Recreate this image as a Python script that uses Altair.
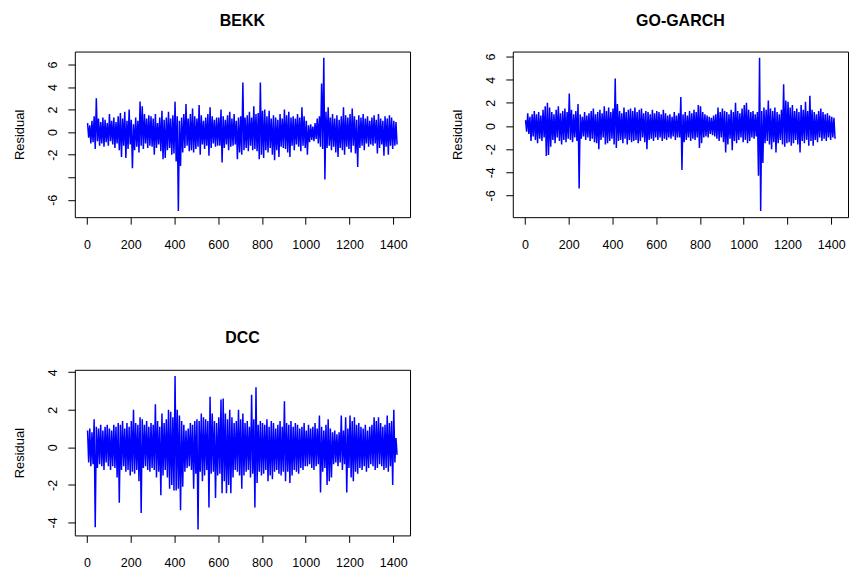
import altair as alt
import pandas as pd

FONT = "Liberation Sans"

# Residual series, read per block of 10 observations: the block's high and low
bekk_hi = [0.8, 0.6, 1.0, 1.4, 3.0, 1.2, 0.9, 1.3, 1.1, 0.8,
           1.6, 1.0, 1.3, 0.9, 1.4, 1.7, 1.2, 1.8, 1.0, 2.0,
           1.1, 0.7, 1.3, 1.0, 2.7, 2.3, 1.6, 1.2, 1.5, 1.4,
           1.2, 1.6, 0.8, 1.3, 1.9, 1.1, 1.3, 1.8, 1.2, 1.5,
           2.7, 1.4, 1.0, 1.3, 1.6, 2.5, 1.2, 1.6, 2.1, 1.4,
           1.2, 2.4, 1.5, 1.0, 1.3, 1.6, 2.2, 1.4, 1.1, 1.3,
           1.3, 2.0, 1.4, 1.1, 1.5, 1.8, 1.2, 1.6, 1.0, 1.3,
           1.4, 4.4, 1.3, 1.5, 1.8, 1.3, 2.3, 1.6, 1.7, 4.4,
           1.9, 2.0, 1.4, 1.9, 1.2, 1.5, 1.3, 1.1, 1.6, 1.2,
           2.0, 1.5, 1.8, 1.3, 1.4, 1.2, 1.6, 1.3, 2.2, 1.4,
           1.0, 0.6, 0.7, 0.5, 0.8, 1.2, 1.4, 4.3, 6.6, 1.8,
           2.2, 1.3, 1.6, 1.2, 1.5, 1.1, 1.4, 2.2, 1.5, 1.3,
           1.6, 2.1, 1.4, 1.1, 1.5, 1.3, 1.6, 1.2, 1.4, 1.0,
           1.3, 1.5, 1.1, 1.6, 1.2, 1.0, 1.4, 1.2, 1.5, 1.3, 1.0, 0.9]
bekk_lo = [-0.5, -1.0, -0.9, -1.5, -0.8, -1.2, -1.0, -1.3, -0.9, -1.2,
           -0.8, -1.1, -1.4, -1.0, -1.6, -2.2, -1.2, -2.3, -1.5, -1.1,
           -3.2, -1.6, -1.3, -1.8, -1.2, -1.5, -1.0, -1.4, -1.2, -1.3,
           -2.0, -1.4, -1.1, -1.7, -2.4, -2.3, -1.6, -1.4, -2.0, -1.9,
           -2.6, -7.0, -3.0, -1.8, -1.4, -1.2, -1.7, -1.6, -1.8, -1.5,
           -1.3, -2.0, -1.1, -1.5, -1.2, -2.1, -1.4, -1.0, -1.3, -1.2,
           -1.2, -2.7, -1.4, -1.1, -1.6, -1.3, -1.2, -1.1, -2.4, -1.8,
           -2.0, -1.6, -1.4, -1.7, -1.2, -1.6, -1.5, -1.7, -2.4, -2.0,
           -2.3, -1.6, -1.8, -1.4, -2.0, -2.5, -1.6, -2.2, -1.3, -1.4,
           -1.5, -1.8, -2.2, -1.2, -1.6, -1.1, -1.3, -1.7, -1.2, -1.4,
           -2.0, -0.9, -0.7, -0.8, -0.6, -1.0, -1.3, -1.5, -4.2, -1.4,
           -1.2, -1.6, -1.3, -1.8, -2.2, -1.4, -1.6, -2.0, -1.3, -1.5,
           -1.8, -1.2, -1.9, -3.1, -1.4, -1.2, -1.6, -1.0, -1.3, -1.1,
           -1.2, -1.0, -1.9, -1.4, -1.1, -2.1, -1.3, -2.0, -1.2, -1.5, -1.2, -1.1]

gog_hi = [0.5, 1.1, 0.8, 1.0, 1.3, 1.0, 1.2, 0.9, 1.4, 1.7,
          2.0, 1.6, 1.2, 1.0, 1.4, 1.7, 1.1, 1.3, 1.5, 1.2,
          2.8, 1.4, 1.0, 1.3, 1.9, 1.0, 0.8, 1.2, 0.9, 1.1,
          1.3, 1.5, 1.0, 1.2, 1.4, 1.1, 1.7, 1.3, 1.6, 1.2,
          1.5, 4.1, 1.9, 1.3, 1.1, 1.6, 1.2, 1.4, 1.5, 1.3,
          1.6, 1.2, 1.4, 1.5, 1.1, 1.3, 1.2, 1.0, 1.4, 1.1,
          1.3, 1.2, 1.0, 1.4, 1.1, 0.9, 1.0, 0.8, 1.2, 0.9,
          1.1, 2.5, 1.0, 1.2, 0.9, 1.3, 1.1, 1.4, 1.2, 1.8,
          1.7, 1.2, 1.0, 0.9, 0.8, 0.7, 0.9, 1.0, 1.6, 1.2,
          1.5, 1.3, 1.2, 1.0, 1.4, 1.2, 2.0, 1.3, 1.1, 1.5,
          1.8, 2.0, 1.4, 1.2, 1.3, 1.0, 1.2, 5.9, 1.3, 1.6,
          1.4, 2.2, 1.5, 1.3, 1.6, 1.2, 1.0, 1.4, 3.6, 2.2,
          2.1, 1.6, 1.8, 1.3, 1.5, 1.2, 1.8, 1.4, 2.1, 1.3,
          2.6, 1.4, 1.2, 1.0, 1.3, 1.5, 1.2, 1.0, 1.1, 0.9, 0.8, 0.7]
gog_lo = [-0.5, -0.7, -1.3, -0.9, -1.2, -1.5, -1.1, -1.3, -1.0, -2.6,
          -2.5, -1.8, -1.2, -1.5, -1.0, -1.3, -1.6, -1.2, -1.4, -1.1,
          -1.2, -1.4, -1.0, -1.3, -5.4, -1.1, -0.9, -1.2, -1.0, -1.3,
          -1.1, -1.4, -1.5, -2.0, -1.2, -1.0, -1.6, -1.5, -1.3, -1.1,
          -1.6, -1.9, -1.3, -1.2, -1.5, -1.1, -1.6, -1.2, -1.4, -1.3,
          -1.2, -1.5, -1.3, -1.0, -1.4, -2.0, -1.2, -1.1, -1.3, -1.0,
          -1.2, -1.0, -1.3, -1.1, -1.2, -1.0, -1.1, -0.9, -1.2, -1.0,
          -1.0, -3.8, -1.4, -1.2, -1.0, -1.3, -1.1, -1.2, -1.0, -1.9,
          -1.5, -1.0, -0.9, -1.0, -0.7, -0.8, -0.9, -1.1, -1.3, -1.0,
          -1.4, -2.3, -1.6, -1.1, -2.1, -1.3, -1.5, -1.2, -1.0, -1.4,
          -1.2, -1.5, -1.3, -1.0, -1.1, -0.9, -4.3, -7.35, -3.2, -1.5,
          -1.3, -1.6, -2.0, -1.4, -2.3, -1.5, -1.2, -1.6, -1.8, -1.5,
          -1.4, -1.7, -1.5, -1.2, -1.6, -2.3, -1.3, -1.5, -1.2, -1.7,
          -1.3, -1.7, -1.2, -1.4, -1.0, -1.3, -1.1, -1.3, -1.0, -1.2, -1.0, -1.1]

dcc_hi = [0.9, 1.0, 0.8, 1.5, 1.1, 1.0, 1.2, 0.9, 1.1, 1.2,
          1.0, 0.9, 1.2, 1.1, 1.3, 1.2, 1.4, 1.0, 1.3, 1.1,
          1.4, 2.0, 1.3, 1.2, 1.6, 1.5, 1.2, 1.4, 1.1, 1.3,
          1.2, 2.3, 1.4, 1.1, 1.8, 1.3, 1.5, 2.0, 1.9, 1.6,
          3.8, 2.0, 1.7, 1.4, 1.2, 0.9, 1.0, 1.3, 1.2, 1.4,
          1.5, 1.4, 1.8, 1.6, 1.5, 1.4, 2.7, 1.8, 1.4, 1.3,
          1.6, 2.55, 2.6, 1.8, 1.5, 2.0, 1.6, 1.3, 1.4, 2.0,
          1.5, 1.8, 1.3, 1.4, 1.1, 2.8, 1.5, 3.2, 1.2, 1.4,
          1.3, 1.2, 1.5, 1.1, 1.4, 1.3, 1.0, 1.2, 1.4, 1.1,
          2.45, 1.3, 1.2, 1.4, 1.1, 1.3, 1.2, 1.0, 1.1, 1.3,
          0.9, 1.2, 1.0, 1.1, 1.3, 1.0, 1.7, 1.1, 0.9, 1.2,
          1.5, 1.0, 0.8, 0.9, 0.7, 0.8, 1.7, 0.9, 1.6, 1.0,
          1.7, 1.4, 1.6, 1.2, 1.3, 1.1, 1.0, 1.2, 0.9, 1.1,
          1.2, 1.6, 1.4, 1.6, 1.3, 1.1, 1.2, 1.7, 1.3, 1.4, 2.0, 0.5]
dcc_lo = [-0.8, -1.0, -0.9, -4.25, -1.1, -0.9, -1.0, -1.2, -0.8, -1.0,
          -1.2, -1.0, -1.1, -1.6, -2.95, -1.2, -1.0, -1.3, -1.2, -1.5,
          -1.3, -1.4, -1.2, -1.8, -3.5, -1.1, -1.0, -1.2, -1.3, -1.1,
          -1.2, -1.6, -1.3, -2.55, -1.5, -1.2, -1.6, -2.2, -2.0, -2.3,
          -2.3, -2.2, -3.35, -2.1, -1.3, -1.1, -1.0, -1.2, -2.2, -1.4,
          -4.38, -1.3, -1.8, -1.5, -1.2, -3.2, -1.4, -1.3, -2.7, -1.5,
          -1.4, -2.45, -1.8, -2.45, -2.0, -2.45, -1.6, -1.2, -1.3, -1.5,
          -2.2, -1.5, -1.3, -1.2, -1.6, -1.4, -3.2, -1.9, -1.3, -1.5,
          -1.4, -1.2, -1.8, -1.5, -1.7, -1.3, -1.2, -1.4, -1.5, -1.3,
          -1.8, -1.3, -1.9, -1.5, -1.2, -1.3, -1.4, -1.1, -1.2, -1.0,
          -1.0, -0.9, -1.1, -1.2, -1.0, -0.9, -2.4, -1.3, -1.1, -2.0,
          -1.8, -1.6, -0.9, -0.8, -1.0, -0.8, -1.2, -0.9, -2.4, -1.1,
          -1.6, -1.8, -1.3, -1.4, -1.1, -1.2, -1.0, -1.3, -1.1, -0.9,
          -1.0, -1.2, -1.1, -0.9, -1.0, -1.2, -1.1, -1.3, -1.0, -2.0, -0.8, -0.4]

x_ticks = [0, 200, 400, 600, 800, 1000, 1200, 1400]
bekk_ticks = [-6, -4, -2, 0, 2, 4, 6]
gog_ticks = [-6, -4, -2, 0, 2, 4, 6]
dcc_ticks = [-4, -2, 0, 2, 4]


def series(hi, lo):
    t, v = [], []
    for i, (h, l) in enumerate(zip(hi, lo)):
        t += [10 * i + 2.5, 10 * i + 7.5]
        v += [h, l]
    return pd.DataFrame({"t": t, "v": v})


W, H = 336, 166
XDOM = [-55.8, 1476.8]


def panel(df, title, ydom, yticks, label_expr="'' + datum.value"):
    yax = dict(values=yticks, title="Residual", grid=False, domain=False,
               tickSize=7, tickColor="black", labelAngle=270,
               labelAlign="center", labelBaseline="alphabetic",
               labelPadding=11, labelFont=FONT, labelFontSize=12.5,
               labelColor="black", labelOverlap=False, labelFlush=False,
               titleFont=FONT, titleFontSize=13, titleFontWeight="normal",
               titleColor="black", titlePadding=20.5, labelExpr=label_expr)
    return alt.Chart(df).mark_line(color="#0000ff", strokeWidth=1.5, clip=True).encode(
        x=alt.X("t:Q", scale=alt.Scale(domain=XDOM, nice=False, zero=False),
                axis=alt.Axis(values=x_ticks, format="d", title=None, grid=False,
                              domain=False, tickSize=7, tickColor="black",
                              labelPadding=14, labelFont=FONT, labelFontSize=12.5,
                              labelColor="black", labelFlush=False,
                              labelOverlap=False)),
        y=alt.Y("v:Q", scale=alt.Scale(domain=ydom, nice=False, zero=False),
                axis=alt.Axis(**yax)),
    ).properties(
        width=W, height=H,
        title=alt.TitleParams(title, font=FONT, fontSize=16, fontWeight="bold",
                              color="black", anchor="middle", offset=10,
                              baseline="alphabetic"),
    )


p1 = panel(series(bekk_hi, bekk_lo), "BEKK", [-7.54, 7.14], bekk_ticks,
           "datum.value == -4 ? '' : '' + datum.value")
p2 = panel(series(gog_hi, gog_lo), "GO-GARCH", [-7.88, 6.43], gog_ticks)
p3 = panel(series(dcc_hi, dcc_lo), "DCC", [-4.69, 4.13], dcc_ticks)

chart = alt.vconcat(
    alt.hconcat(p1, p2, spacing=39),
    p3,
    spacing=78,
).properties(
    padding={"left": 12, "top": 11, "right": 0, "bottom": 0},
    background="white",
).configure_view(stroke="black", strokeWidth=1)

chart.save("out.html", embed_options={"renderer": "svg", "actions": False})
